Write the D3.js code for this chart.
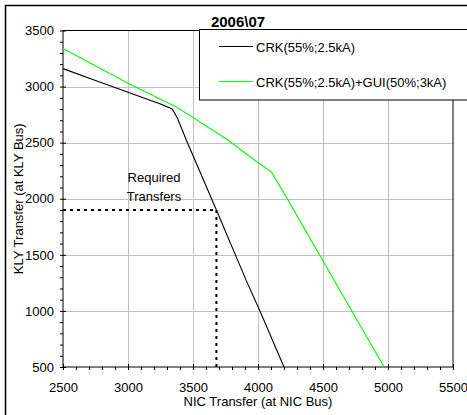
<!DOCTYPE html>
<html>
<head>
<meta charset="utf-8">
<script src="https://cdn.jsdelivr.net/npm/d3@7"></script>
<style>
  html, body { margin: 0; padding: 0; background: #fff; }
  svg { display: block; font-family: "Liberation Sans", Arial, sans-serif; }
</style>
</head>
<body>
<svg width="467" height="415"></svg>
<script>
// chart values
const title = '2006\\07'
const xTicks = [2500, 3000, 3500, 4000, 4500, 5000, 5500]
const yTicks = [500, 1000, 1500, 2000, 2500, 3000, 3500]
const seriesNames = ['CRK(55%;2.5kA)', 'CRK(55%;2.5kA)+GUI(50%;3kA)']
const crkX = [2500, 2750, 3000, 3250, 3340, 3380, 3450, 3680, 3910, 4015, 4200]
const crkY = [3160, 3055, 2950, 2845, 2800, 2720, 2520, 1900, 1270, 1000, 500]
const guiX = [2500, 3000, 3375, 3500, 3760, 3950, 4105, 4220, 4970]
const guiY = [3340, 3030, 2815, 2725, 2530, 2365, 2235, 2010, 500]
const required = { x: 3680, y: 1900 }

const svg = d3.select('svg')
const plotL = 63, plotR = 453, plotT = 30.5, plotB = 367

const x = d3.scaleLinear().domain([2500, 5500]).range([plotL, plotR])
const y = d3.scaleLinear().domain([500, 3500]).range([plotB, plotT])

// outer chart frame, runs off the right and bottom edge
svg.append('rect')
  .attr('x', 5.5).attr('y', 5.5)
  .attr('width', 600).attr('height', 600)
  .attr('fill', 'none').attr('stroke', '#000').attr('stroke-width', 1.5)

// gridlines
const grid = svg.append('g').attr('stroke', '#c0c0c0').attr('stroke-width', 1)
grid.selectAll('.gx').data(xTicks.slice(1, -1)).join('line')
  .attr('class', 'gx')
  .attr('x1', (d) => Math.round(x(d)) + 0.5).attr('x2', (d) => Math.round(x(d)) + 0.5)
  .attr('y1', plotT).attr('y2', plotB)
grid.selectAll('.gy').data(yTicks.slice(1, -1)).join('line')
  .attr('class', 'gy')
  .attr('x1', plotL).attr('x2', plotR)
  .attr('y1', (d) => Math.round(y(d)) + 0.5).attr('y2', (d) => Math.round(y(d)) + 0.5)

// plot border
svg.append('rect')
  .attr('x', plotL).attr('y', plotT)
  .attr('width', plotR - plotL).attr('height', plotB - plotT)
  .attr('fill', 'none').attr('stroke', '#000').attr('stroke-width', 1)

// required transfers marker
const dots = svg.append('g')
  .attr('stroke', '#000').attr('stroke-width', 2).attr('stroke-dasharray', '3,4')
dots.append('line')
  .attr('x1', x(2500)).attr('x2', x(required.x))
  .attr('y1', y(required.y)).attr('y2', y(required.y))
dots.append('line')
  .attr('x1', x(required.x)).attr('x2', x(required.x))
  .attr('y1', y(required.y)).attr('y2', y(500))

svg.append('text')
  .attr('x', 154).attr('y', 182)
  .attr('text-anchor', 'middle').attr('font-size', 13)
  .text('Required')
svg.append('text')
  .attr('x', 154).attr('y', 201)
  .attr('text-anchor', 'middle').attr('font-size', 13)
  .text('Transfers')

// series
const line = d3.line().x((d) => x(d[0])).y((d) => y(d[1]))
const series = [
  { name: seriesNames[0], color: '#000', pts: d3.zip(crkX, crkY) },
  { name: seriesNames[1], color: '#00ff00', pts: d3.zip(guiX, guiY) },
]
svg.append('g').selectAll('path').data(series).join('path')
  .attr('fill', 'none')
  .attr('stroke', (d) => d.color)
  .attr('stroke-width', 1.1)
  .attr('d', (d) => line(d.pts))

// x axis
const xAxis = svg.append('g')
  .attr('transform', `translate(0,${plotB})`)
  .call(d3.axisBottom(x).tickValues(xTicks).tickSize(3).tickFormat(d3.format('d')))
xAxis.select('.domain').remove()
xAxis.selectAll('line').attr('y1', -3).attr('stroke', '#000')
xAxis.selectAll('text').attr('y', 15.5).attr('font-size', 13).attr('font-family', null).attr('fill', '#000')
const xMinor = svg.append('g')
  .attr('transform', `translate(0,${plotB})`)
  .call(d3.axisBottom(x).tickValues(d3.range(2600, 5500, 100).filter((d) => d % 500)).tickSize(3).tickFormat(''))
xMinor.select('.domain').remove()

// y axis
const yAxis = svg.append('g')
  .attr('transform', `translate(${plotL},0)`)
  .call(d3.axisLeft(y).tickValues(yTicks).tickSize(3).tickPadding(6).tickFormat(d3.format('d')))
yAxis.select('.domain').remove()
yAxis.selectAll('line').attr('x1', 3).attr('stroke', '#000')
yAxis.selectAll('text').attr('font-size', 13).attr('font-family', null).attr('fill', '#000')
const yMinor = svg.append('g')
  .attr('transform', `translate(${plotL},0)`)
  .call(d3.axisLeft(y).tickValues(d3.range(600, 3500, 100).filter((d) => d % 500)).tickSize(3).tickFormat(''))
yMinor.select('.domain').remove()

// axis titles
svg.append('text')
  .attr('x', (plotL + plotR) / 2).attr('y', 406)
  .attr('text-anchor', 'middle').attr('font-size', 13)
  .text('NIC Transfer (at NIC Bus)')
svg.append('text')
  .attr('transform', `translate(23,${(plotT + plotB) / 2}) rotate(-90)`)
  .attr('text-anchor', 'middle').attr('font-size', 13)
  .text('KLY Transfer (at KLY Bus)')

// title
svg.append('text')
  .attr('x', 238).attr('y', 26.5)
  .attr('text-anchor', 'middle').attr('font-size', 15).attr('font-weight', 'bold')
  .text(title)

// legend box, runs off the right edge
const legend = svg.append('g')
legend.append('rect')
  .attr('x', 199.5).attr('y', 29.5)
  .attr('width', 400).attr('height', 70.5)
  .attr('fill', '#fff').attr('stroke', '#000').attr('stroke-width', 1)
const item = legend.selectAll('g.item').data(series).join('g')
  .attr('class', 'item')
  .attr('transform', (d, i) => `translate(0,${i === 0 ? 46.5 : 81.5})`)
item.append('line')
  .attr('x1', 219).attr('x2', 253)
  .attr('stroke', (d) => d.color).attr('stroke-width', 1.1)
item.append('text')
  .attr('x', 256).attr('y', 5)
  .attr('font-size', 13)
  .text((d) => d.name)
</script>
</body>
</html>
